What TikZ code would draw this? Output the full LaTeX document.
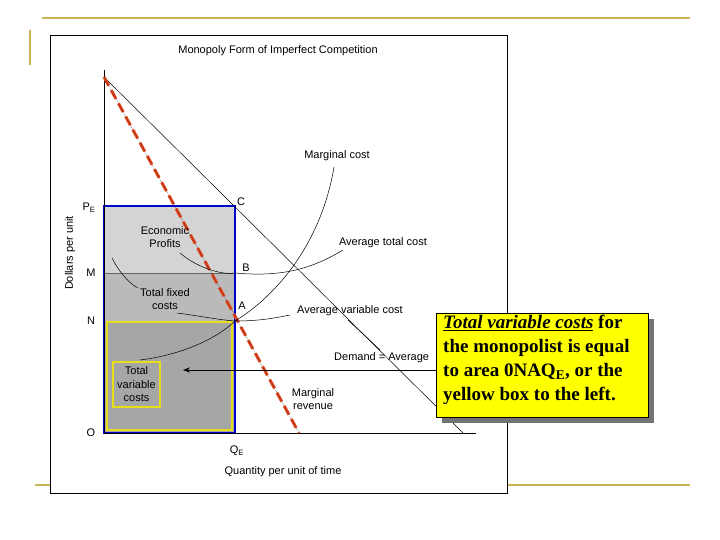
\documentclass[tikz,border=0pt]{standalone}
\usepackage{fontspec}
\setmainfont{Liberation Sans}
\newfontfamily\tnr{Liberation Serif}
\usetikzlibrary{arrows.meta}
\definecolor{olive}{RGB}{200,180,80}
\definecolor{cyel}{RGB}{255,255,0}
\definecolor{mrred}{RGB}{225,70,30}
\begin{document}
\begin{tikzpicture}[x=1pt,y=-1pt,
  lbl/.style={font=\fontsize{11}{13.5}\selectfont,inner sep=0pt},
  curve/.style={black,line width=0.5pt}]
\useasboundingbox (0,0) rectangle (720,540);
\fill[white] (0,0) rectangle (720,540);
% slide decoration
\draw[olive,line width=1.5pt] (42,18) -- (690,18);
\draw[olive,line width=1.5pt] (30,30) -- (30,65);
\draw[olive,line width=1.5pt] (35,485) -- (690,485);
% frame
\draw[fill=white,line width=0.6pt] (50,35) rectangle (507,493);
\node[lbl] (title) at (278,51) {Monopoly Form of Imperfect Competition};
% areas
\fill[black!17] (104,206) rectangle (235,273);
\fill[black!27] (104,273) rectangle (235,321);
\fill[black!35] (104,321) rectangle (235,433);
\draw[black!60,line width=0.6pt] (104,273) -- (235,273);
\draw[yellow!90!black,line width=1.5pt] (107,322) rectangle (232,430);
\draw[blue!80!black,line width=2pt] (104,206) rectangle (235,433);
% axes
\coordinate (top) at (104,70);
\coordinate (orig) at (104,433);
\coordinate (xend) at (476,433);
\draw[line width=1pt] (top) -- (orig) -- (xend);
% demand
\coordinate (D0) at (104,77);
\coordinate (D1) at (463,433);
\draw[curve] (D0) -- (D1);
% MR
\coordinate (MR1) at (299,433);
\draw[mrred,line width=3pt,dash pattern=on 10pt off 5pt] (D0) -- (MR1);
\draw[black,line width=0.4pt,densely dotted] (D0) -- (MR1);
% points
\coordinate (A) at (235,321);
\coordinate (B) at (235,273);
\coordinate (C) at (235,206);
% MC
\draw[curve] (A) .. controls (270,300) and (320,250) .. (334,167);
% ATC
\draw[curve] (180,253) .. controls (200,270) and (225,275) .. (B) .. controls (280,277) and (310,270) .. (343,250);
% AVC
\draw[curve] (177,313) .. controls (200,316) and (220,320) .. (A) .. controls (260,321) and (275,318) .. (290,315);
% leader total variable
\draw[curve] (140,360) .. controls (180,355) and (215,340) .. (A);
% leaders
\draw[curve] (112,258) .. controls (118,270) and (128,283) .. (138,288);
\draw[curve] (348,320) -- (380,350);
% labels
\node[lbl] (pe) at (89,208) {P\textsubscript{E}};
\node[lbl] (m) at (91,273) {M};
\node[lbl] (n) at (91,321) {N};
\node[lbl] (o) at (91,433) {O};
\node[lbl] (qe) at (237,451) {Q\textsubscript{E}};
\node[lbl] (lc) at (241,202) {C};
\node[lbl] (lb) at (246,268) {B};
\node[lbl] (la) at (242,306) {A};
\node[lbl,rotate=90] (ylab) at (70,253) {Dollars per unit};
\node[lbl] (xlab) at (283,472) {Quantity per unit of time};
\node[lbl,align=center] (ep) at (165,237) {Economic\\Profits};
\node[lbl,align=center] (tfc) at (165,299) {Total fixed\\costs};
\node[lbl] (mc) at (337,156) {Marginal cost};
\node[lbl] (atc) at (383,243) {Average total cost};
\node[lbl] (avc) at (350,311) {Average variable cost};
\node[lbl,anchor=west] (dem) at (334,358) {Demand = Average};
\node[lbl,align=center] (mr) at (313,399) {Marginal\\revenue};
\node[lbl,align=center,draw=yellow!90!black,line width=1.5pt,minimum width=47pt,minimum height=45pt] (tvc) at (136.5,384.5) {Total\\variable\\costs};
% callout
\fill[black!55] (442,319) rectangle (654,423);
\node[draw=black,fill=cyel,line width=0.6pt,minimum width=212pt,minimum height=104pt,anchor=north west,inner sep=0pt] (call) at (436,313) {};
\node[anchor=north west,align=left,inner sep=0pt,font=\tnr\bfseries\fontsize{19}{24}\selectfont] (ctext) at (443,315)
 {\underline{\itshape Total variable costs} for\\the monopolist is equal\\to area 0NAQ\textsubscript{E}, or the\\yellow box to the left.};
\draw[-{Stealth[length=7pt]},line width=1pt] (call.west |- 0,370) -- (183,370);
\end{tikzpicture}
\end{document}
